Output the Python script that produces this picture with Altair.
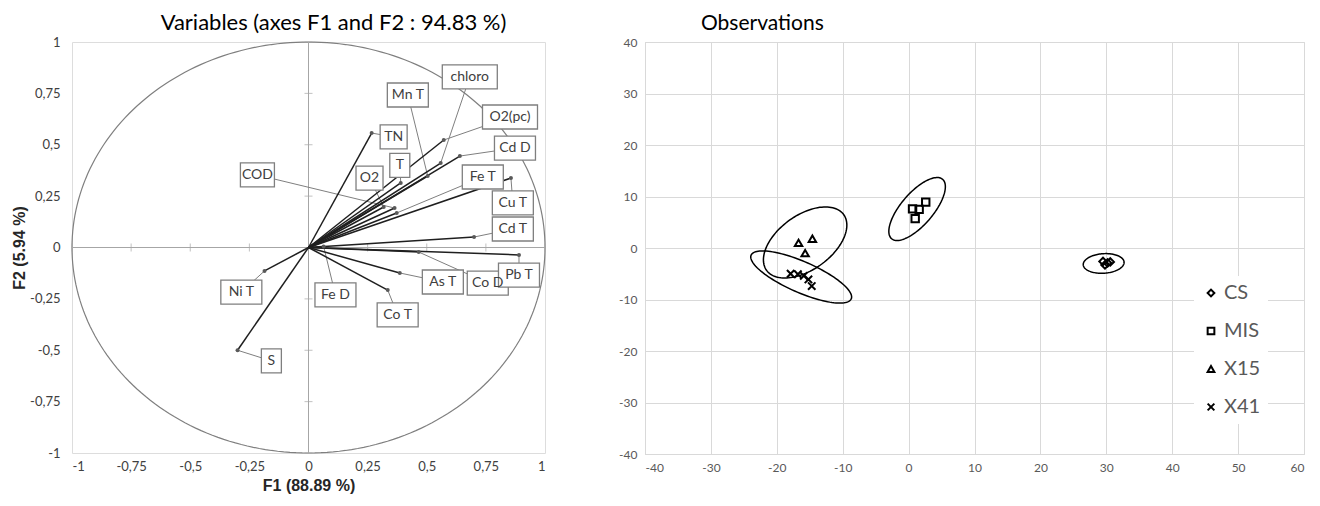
import altair as alt
import pandas as pd
import numpy as np

# ---------------- Left panel: correlation circle ----------------
var_names = ["COD", "TN", "Mn T", "chloro", "O2(pc)", "Cd D", "T", "O2", "Fe T",
             "Cu T", "Cd T", "Co D", "Pb T", "As T", "Co T", "Fe D", "Ni T", "S"]
f1_vals = [0.364, 0.267, 0.504, 0.559, 0.572, 0.640, 0.390, 0.318, 0.373,
           0.856, 0.700, 0.466, 0.890, 0.386, 0.335, 0.064, -0.186, -0.300]
f2_vals = [0.192, 0.557, 0.348, 0.411, 0.523, 0.445, 0.314, 0.197, 0.168,
           0.338, 0.051, -0.022, -0.036, -0.124, -0.207, 0.005, -0.114, -0.500]
label_f1 = [-0.216, 0.360, 0.420, 0.682, 0.852, 0.873, 0.386, 0.258, 0.737,
            0.864, 0.864, 0.758, 0.890, 0.568, 0.377, 0.114, -0.284, -0.157]
label_f2 = [0.353, 0.538, 0.742, 0.830, 0.635, 0.484, 0.400, 0.338, 0.343,
            0.217, 0.090, -0.173, -0.134, -0.168, -0.328, -0.231, -0.217, -0.552]
circle_ticks = [-1, -0.75, -0.5, -0.25, 0, 0.25, 0.5, 0.75, 1]

# ---------------- Right panel: observations ----------------
groups = ["CS", "MIS", "X15", "X41"]
cs_x = [29.5, 30.2, 29.8, 30.6]
cs_y = [-2.6, -2.9, -3.3, -2.7]
mis_x = [0.6, 2.6, 1.0, 1.6]
mis_y = [7.6, 8.9, 5.7, 7.5]
x15_x = [-16.7, -14.6, -15.7]
x15_y = [1.0, 1.8, -1.0]
x41_x = [-17.9, -16.8, -15.9, -15.2, -14.7]
x41_y = [-5.0, -5.1, -5.4, -6.1, -7.4]
# confidence ellipses: centre and two conjugate half-axes (data units)
ell_cx = [29.6, 1.29, -15.7, -16.3]
ell_cy = [-3.0, 7.57, 1.07, -5.63]
ell_ux = [3.1, 3.87, 5.89, 7.59]
ell_uy = [0.2, 5.77, 5.34, -4.27]
ell_vx = [0.0, 1.85, 2.32, -0.99]
ell_vy = [1.9, -2.02, -4.37, -2.72]
obs_x_ticks = list(range(-40, 61, 10))
obs_y_ticks = list(range(-40, 41, 10))

LW, LH = 473, 411
RW, RH = 659, 412
FONT = "Lato"

# ---- left data frames
vec = pd.DataFrame({"name": var_names, "f1": f1_vals, "f2": f2_vals,
                    "lx": label_f1, "ly": label_f2})
vec["x0"] = 0.0
vec["y0"] = 0.0
px_per_x = LW / 2.0
px_per_y = LH / 2.0
box_w = vec["name"].str.len() * 7 + 13
vec["bx1"] = vec["lx"] - box_w / 2 / px_per_x
vec["bx2"] = vec["lx"] + box_w / 2 / px_per_x
vec["by1"] = vec["ly"] - 12 / px_per_y
vec["by2"] = vec["ly"] + 12 / px_per_y

t = np.linspace(0, 2 * np.pi, 241)
circ = pd.DataFrame({"x": np.cos(t), "y": np.sin(t), "i": np.arange(len(t))})

hax = pd.DataFrame({"x": [-1.0], "x2": [1.0], "y": [0.0]})
vax = pd.DataFrame({"y": [-1.0], "y2": [1.0], "x": [0.0]})
tk = pd.DataFrame({"v": [v for v in circle_ticks if v != 0]})
tk["z"] = 0.0

xs = alt.Scale(domain=[-1, 1], nice=False, zero=False)
ys = alt.Scale(domain=[-1, 1], nice=False, zero=False)
lab_expr = "replace(toString(datum.value), '.', ',')"
ax_x = alt.Axis(values=circle_ticks, labelExpr=lab_expr, domain=False, ticks=False, grid=False,
                labelFontSize=13, labelColor="#404040", labelFont=FONT, labelPadding=7,
                title="F1 (88.89 %)", titleFont="Liberation Sans", titleFontWeight="bold",
                titleFontSize=16, titleColor="#262626", titlePadding=4)
ax_y = alt.Axis(values=circle_ticks, labelExpr=lab_expr, domain=False, ticks=False, grid=False,
                labelFontSize=13, labelColor="#404040", labelFont=FONT, labelPadding=12,
                title="F2 (5.94 %)", titleFont="Liberation Sans", titleFontWeight="bold",
                titleFontSize=16, titleColor="#262626", titlePadding=2)


def X(f):
    return alt.X(f, type="quantitative", scale=xs, axis=ax_x)


def Y(f):
    return alt.Y(f, type="quantitative", scale=ys, axis=ax_y)


circle_l = alt.Chart(circ).mark_line(color="#7f7f7f", strokeWidth=1.2).encode(
    x=X("x"), y=Y("y"), order="i:Q")
hline = alt.Chart(hax).mark_rule(color="#a6a6a6", strokeWidth=1).encode(
    x=X("x"), x2="x2", y=Y("y"))
vline = alt.Chart(vax).mark_rule(color="#a6a6a6", strokeWidth=1).encode(
    y=Y("y"), y2="y2", x=X("x"))
hticks = alt.Chart(tk).mark_tick(orient="vertical", size=8, thickness=1, color="#a6a6a6").encode(
    x=X("v"), y=Y("z"))
vticks = alt.Chart(tk).mark_tick(orient="horizontal", size=8, thickness=1, color="#a6a6a6").encode(
    y=Y("v"), x=X("z"))
leaders = alt.Chart(vec).mark_rule(color="#7f7f7f", strokeWidth=1).encode(
    x=X("f1"), y=Y("f2"), x2="lx", y2="ly")
vectors = alt.Chart(vec).mark_rule(color="#1f1f1f", strokeWidth=1.5).encode(
    x=X("x0"), y=Y("y0"), x2="f1", y2="f2")
dots = alt.Chart(vec).mark_circle(size=16, color="#595959", opacity=1).encode(
    x=X("f1"), y=Y("f2"))
boxes = alt.Chart(vec).mark_rect(fill="white", stroke="#7f7f7f", strokeWidth=1.3).encode(
    x=X("bx1"), x2="bx2", y=Y("by1"), y2="by2")
texts = alt.Chart(vec).mark_text(font=FONT, fontSize=14, color="#404040").encode(
    x=X("lx"), y=Y("ly"), text="name:N")

left = alt.layer(circle_l, hline, vline, hticks, vticks, leaders, vectors, dots, boxes, texts).properties(
    width=LW, height=LH,
    title=alt.TitleParams("Variables (axes F1 and F2 : 94.83 %)", font=FONT, fontSize=22,
                          fontWeight="normal", color="#000000", anchor="middle", frame="group",
                          dx=25, offset=1))

# ---- right data frames
pts = pd.concat([
    pd.DataFrame({"g": "CS", "x": cs_x, "y": cs_y}),
    pd.DataFrame({"g": "MIS", "x": mis_x, "y": mis_y}),
    pd.DataFrame({"g": "X15", "x": x15_x, "y": x15_y}),
    pd.DataFrame({"g": "X41", "x": x41_x, "y": x41_y}),
], ignore_index=True)

ell_rows = []
tt = np.linspace(0, 2 * np.pi, 121)
for k, g in enumerate(groups):
    for j, a in enumerate(tt):
        ell_rows.append({"g": g, "i": j,
                         "x": ell_cx[k] + ell_ux[k] * np.cos(a) + ell_vx[k] * np.sin(a),
                         "y": ell_cy[k] + ell_uy[k] * np.cos(a) + ell_vy[k] * np.sin(a)})
ell = pd.DataFrame(ell_rows)

rxs = alt.Scale(domain=[-40, 60], nice=False, zero=False)
rys = alt.Scale(domain=[-40, 40], nice=False, zero=False)
rax_x = alt.Axis(values=obs_x_ticks, labelExpr="toString(datum.value)", grid=True, gridColor="#d9d9d9",
                 domainColor="#d9d9d9", ticks=False, labelColor="#595959", labelFontSize=12,
                 labelFont=FONT, labelPadding=8, title=None)
rax_y = alt.Axis(values=obs_y_ticks, labelExpr="toString(datum.value)", grid=True, gridColor="#d9d9d9",
                 domainColor="#d9d9d9", ticks=False, labelColor="#595959", labelFontSize=12,
                 labelFont=FONT, labelPadding=8, title=None)

ell_l = alt.Chart(ell).mark_line(color="black", strokeWidth=1.5).encode(
    x=alt.X("x:Q", scale=rxs, axis=rax_x), y=alt.Y("y:Q", scale=rys, axis=rax_y),
    detail="g:N", order="i:Q")
xpath = "M-1,-1L1,1M-1,1L1,-1"
# legend position is measured from the left panel's plot origin (shared concat group)
pts_l = alt.Chart(pts).mark_point(filled=False, color="black", strokeWidth=2, size=55, opacity=1).encode(
    x=alt.X("x:Q", scale=rxs, axis=rax_x), y=alt.Y("y:Q", scale=rys, axis=rax_y),
    shape=alt.Shape("g:N", scale=alt.Scale(domain=groups,
                                           range=["diamond", "square", "triangle-up", xpath]),
                    legend=alt.Legend(title=None, orient="none", legendX=1122, legendY=234,
                                      fillColor="white", padding=7, labelFontSize=20,
                                      labelFont=FONT, labelColor="#595959", symbolSize=45,
                                      symbolStrokeWidth=2, symbolStrokeColor="black",
                                      symbolFillColor="white", rowPadding=18, labelOffset=3)))

right = alt.layer(ell_l, pts_l).properties(
    width=RW, height=RH,
    title=alt.TitleParams("Observations", font=FONT, fontSize=21, fontWeight="normal",
                          color="#000000", anchor="start", frame="group", dx=56, offset=2))

chart = alt.hconcat(left, right, spacing=70).configure_view(stroke="#d9d9d9").configure(
    padding={"left": 3, "top": 3, "right": 0, "bottom": 0})

chart.save("out.html", embed_options={"renderer": "svg", "actions": False})
